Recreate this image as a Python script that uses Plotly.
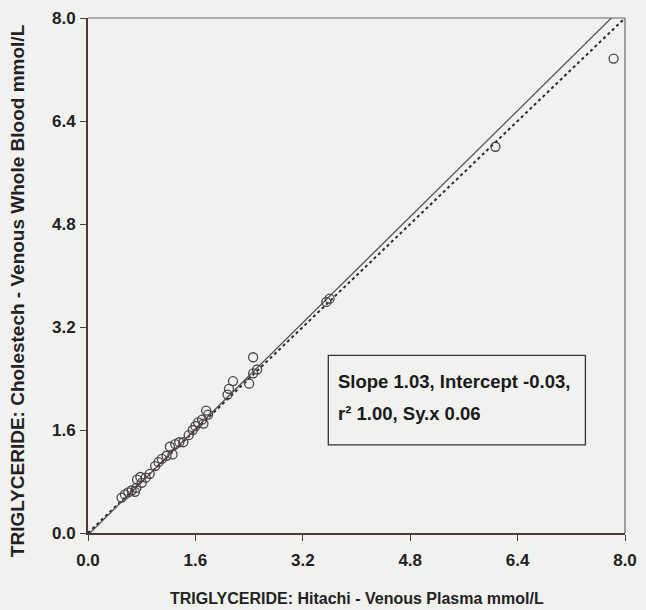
import plotly.graph_objects as go

# Data: Hitachi venous plasma (x) vs Cholestech venous whole blood (y), mmol/L
hitachi = [0.50, 0.55, 0.60, 0.65, 0.70, 0.72, 0.73, 0.78, 0.80, 0.86,
           0.92, 1.00, 1.05, 1.10, 1.17, 1.22, 1.26, 1.30, 1.36, 1.42,
           1.50, 1.56, 1.60, 1.64, 1.70, 1.72, 1.76, 1.79, 2.08, 2.10,
           2.16, 2.40, 2.46, 2.46, 2.52, 3.55, 3.60, 6.07, 7.83]
cholestech = [0.55, 0.60, 0.63, 0.66, 0.64, 0.70, 0.83, 0.87, 0.78, 0.86,
              0.92, 1.04, 1.10, 1.15, 1.20, 1.34, 1.22, 1.38, 1.41, 1.41,
              1.52, 1.60, 1.66, 1.72, 1.76, 1.70, 1.90, 1.84, 2.15, 2.24,
              2.36, 2.32, 2.48, 2.73, 2.54, 3.59, 3.64, 6.00, 7.37]

slope = 1.03
intercept = -0.03
line_x = [0.0, 8.0]
identity_x = [0.0, 8.0]

tick_vals = [0.0, 1.6, 3.2, 4.8, 6.4, 8.0]
tick_text = ["0.0", "1.6", "3.2", "4.8", "6.4", "8.0"]

x_title = "TRIGLYCERIDE: Hitachi - Venous Plasma mmol/L"
y_title = "TRIGLYCERIDE: Cholestech - Venous Whole Blood mmol/L"
stats_line1 = "Slope 1.03, Intercept -0.03,"
stats_line2 = "r² 1.00, Sy.x 0.06"

FONT = "Liberation Sans, Arial, sans-serif"
BG = "#f1f2f0"

fig = go.Figure()

# identity line (dotted)
fig.add_trace(go.Scatter(
    x=identity_x, y=identity_x, mode="lines",
    line=dict(color="#2a2a2a", width=2, dash="dot"),
    showlegend=False, hoverinfo="skip"))

# regression line (solid)
fig.add_trace(go.Scatter(
    x=line_x, y=[slope * v + intercept for v in line_x], mode="lines",
    line=dict(color="#555050", width=1.3),
    showlegend=False, hoverinfo="skip"))

# data points
fig.add_trace(go.Scatter(
    x=hitachi, y=cholestech, mode="markers",
    marker=dict(symbol="circle-open", size=9, color="#4a4545",
                line=dict(width=1.3, color="#4a4545")),
    showlegend=False))

axis_common = dict(
    range=[0, 8], tickvals=tick_vals, ticktext=tick_text,
    showgrid=False, zeroline=False, showline=True, automargin=False,
    linecolor="#4a3c3c", linewidth=2,
    ticks="outside", ticklen=6, tickwidth=1, tickcolor="#4a3c3c",
    tickfont=dict(family=FONT, size=17, color="#222", weight="bold"),
)

fig.update_xaxes(**axis_common, ticklabelstandoff=5)
fig.update_yaxes(**axis_common, ticklabelstandoff=1)

# axis titles placed as annotations in paper coordinates
fig.add_annotation(text=x_title, xref="paper", yref="paper",
                   x=0.5, y=-0.127, xanchor="center", yanchor="middle",
                   showarrow=False,
                   font=dict(family=FONT, size=16, color="#222", weight="bold"))
fig.add_annotation(text=y_title, xref="paper", yref="paper",
                   x=-0.13, y=0.47, xanchor="center", yanchor="middle",
                   textangle=-90, showarrow=False,
                   font=dict(family=FONT, size=19, color="#222", weight="bold"))

# top and right frame lines
fig.add_shape(type="line", xref="paper", yref="paper", x0=0, x1=1, y0=1, y1=1,
              line=dict(color="#6a6464", width=1.2))
fig.add_shape(type="line", xref="paper", yref="paper", x0=1, x1=1, y0=0, y1=1,
              line=dict(color="#6a6464", width=1.2))

# stats box
fig.add_shape(type="rect", xref="x", yref="y", x0=3.58, x1=7.41, y0=1.37, y1=2.76,
              line=dict(color="#333", width=1.3), fillcolor="rgba(0,0,0,0)")
fig.add_annotation(x=3.70, y=2.36, xref="x", yref="y", text=stats_line1,
                   showarrow=False, xanchor="left", yanchor="middle",
                   font=dict(family=FONT, size=18.5, color="#1a1a1a", weight="bold"))
fig.add_annotation(x=3.70, y=1.85, xref="x", yref="y", text=stats_line2,
                   showarrow=False, xanchor="left", yanchor="middle",
                   font=dict(family=FONT, size=18.5, color="#1a1a1a", weight="bold"))

fig.update_layout(
    width=646, height=610,
    margin=dict(l=88, r=21, t=18, b=77),
    paper_bgcolor=BG, plot_bgcolor=BG,
    font=dict(family=FONT),
)

fig.write_html("out.html")
